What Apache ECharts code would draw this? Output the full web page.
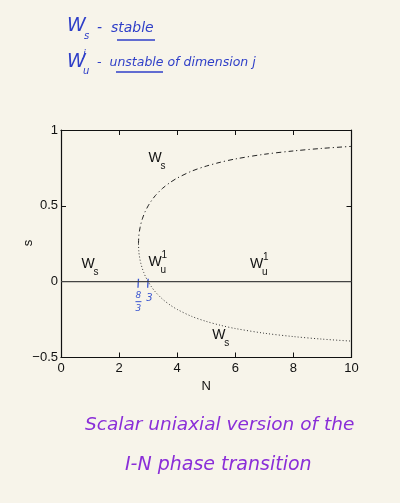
<!DOCTYPE html>
<html><head><meta charset="utf-8">
<script src="https://cdn.jsdelivr.net/npm/echarts@6/dist/echarts.min.js"></script>
<style>html,body{margin:0;padding:0;background:#f7f4ea;}#c{width:400px;height:503px;}</style>
</head><body><div id="c"></div>
<script>
// Values
const nUpper = [2.667, 2.68, 2.7, 2.72, 2.75, 2.8, 2.85, 2.9, 3.0, 3.1, 3.25, 3.5, 3.75, 4, 4.5, 5, 5.5, 6, 7, 8, 9, 10];
const sUpper = [0.25, 0.303, 0.333, 0.355, 0.381, 0.414, 0.440, 0.463, 0.5, 0.530, 0.568, 0.616, 0.653, 0.683, 0.729, 0.762, 0.788, 0.809, 0.840, 0.862, 0.879, 0.892];
const nLower = nUpper;
const sLower = [0.25, 0.197, 0.167, 0.145, 0.119, 0.086, 0.060, 0.037, 0, -0.030, -0.068, -0.116, -0.153, -0.183, -0.229, -0.262, -0.288, -0.309, -0.340, -0.362, -0.379, -0.392];
const nZero = [0, 10];
const sZero = [0, 0];
const xTicks = [0, 2, 4, 6, 8, 10];
const yTicks = [-0.5, 0, 0.5, 1];
// plot annotations
const annN = [3.25, 0.95, 3.25, 6.75, 5.45];
const annS = [0.77, 0.07, 0.08, 0.07, -0.40];
const annSub = ['s', 's', 'u', 'u', 's'];
const annSup = ['', '', '1', '1', ''];

const zip = (a, b) => a.map((v, i) => [v, b[i]]);
const chart = echarts.init(document.getElementById('c'));
const AX = 'Liberation Sans';
const axisCommon = {
  type: 'value', min: 0, max: 10, interval: 2,
  axisLine: {show: true, onZero: false, lineStyle: {color: '#111', width: 1.2}},
  axisTick: {show: true, inside: true, length: 5, lineStyle: {color: '#111'}},
  splitLine: {show: false}
};
chart.setOption({
  backgroundColor: '#f7f4ea',
  animation: false,
  grid: {left: 61, right: 48.5, top: 130, bottom: 145.5},
  xAxis: [
    Object.assign({}, axisCommon, {position: 'bottom', name: 'N', nameLocation: 'middle', nameGap: 22,
      nameTextStyle: {fontFamily: AX, fontSize: 13, color: '#111'},
      axisLabel: {fontFamily: AX, fontSize: 13, color: '#111', margin: 4,
        formatter: v => xTicks.includes(v) ? String(v) : ''}}),
    Object.assign({}, axisCommon, {position: 'top', axisLabel: {show: false}})
  ],
  yAxis: [
    Object.assign({}, axisCommon, {min: -0.5, max: 1, interval: 0.5, position: 'left',
      axisLabel: {fontFamily: AX, fontSize: 13, color: '#111', margin: 3,
        formatter: v => yTicks.includes(v) ? String(v).replace('-', '\u2212') : ''}}),
    Object.assign({}, axisCommon, {min: -0.5, max: 1, interval: 0.5, position: 'right', axisLabel: {show: false}})
  ],
  series: [
    {type: 'line', data: zip(nZero, sZero), symbol: 'none', lineStyle: {color: '#444', width: 1.3}},
    {type: 'line', data: zip(nUpper, sUpper), symbol: 'none', smooth: 0.3,
      lineStyle: {color: '#222', width: 1, type: [5, 3, 1.2, 3]}},
    {type: 'line', data: zip(nLower, sLower), symbol: 'none', smooth: 0.3,
      lineStyle: {color: '#333', width: 1, type: [1, 2.2]}}
  ]
});

const g = [];
const HW = 'DejaVu Sans';
function txt(x, y, s, size, color, opts) {
  g.push({type: 'text', x: x, y: y, style: Object.assign({text: s, fontSize: size, fill: color, fontFamily: AX}, opts || {})});
}
// y axis name
g.push({type: 'text', x: 28, y: 243, rotation: Math.PI / 2,
  style: {text: 's', fontSize: 13, fill: '#111', fontFamily: AX, align: 'center', verticalAlign: 'middle'}});
// annotations in plot
annN.forEach((n, i) => {
  const p = chart.convertToPixel({xAxisIndex: 0, yAxisIndex: 0}, [n, annS[i]]);
  txt(p[0] - 7, p[1] - 14, 'W', 14, '#111');
  txt(p[0] + 5, p[1] - 4, annSub[i], 10, '#111');
  if (annSup[i]) txt(p[0] + 6, p[1] - 19, annSup[i], 10, '#111');
});
// handwritten notes (blue)
const BLUE = '#2f3fc8';
const hw = {fontFamily: HW, fontStyle: 'italic'};
txt(67, 17, 'W', 19, BLUE, hw);
txt(84, 31, 's', 10, BLUE, hw);
txt(97, 21, '-  stable', 14, BLUE, hw);
g.push({type: 'line', shape: {x1: 117, y1: 40, x2: 155, y2: 40}, style: {stroke: BLUE, lineWidth: 1.5}});
txt(67, 53, 'W', 19, BLUE, hw);
txt(83, 49, 'j', 10, BLUE, hw);
txt(83, 66, 'u', 10, BLUE, hw);
txt(97, 56, '-  unstable of dimension j', 12.5, BLUE, hw);
g.push({type: 'line', shape: {x1: 116, y1: 72, x2: 163, y2: 72}, style: {stroke: BLUE, lineWidth: 1.5}});
// blue marks at N = 8/3 and N = 3
const p83 = chart.convertToPixel({xAxisIndex: 0, yAxisIndex: 0}, [8 / 3, 0]);
const p3 = chart.convertToPixel({xAxisIndex: 0, yAxisIndex: 0}, [3, 0]);
[p83, p3].forEach(p => g.push({type: 'line', shape: {x1: p[0], y1: p[1] - 3, x2: p[0] - 0.5, y2: p[1] + 6}, style: {stroke: '#3a55d0', lineWidth: 1.3}}));
txt(p83[0] - 3, p83[1] + 9, '8', 9, '#3a55d0', hw);
g.push({type: 'line', shape: {x1: p83[0] - 3, y1: p83[1] + 20, x2: p83[0] + 3, y2: p83[1] + 20}, style: {stroke: '#3a55d0', lineWidth: 1}});
txt(p83[0] - 3, p83[1] + 22, '3', 9, '#3a55d0', hw);
txt(p3[0] - 2, p3[1] + 12, '3', 10, '#3a55d0', hw);
// handwritten caption (purple)
const PUR = '#8a2ed8';
txt(85, 416, 'Scalar uniaxial version of the', 18.5, PUR, hw);
txt(125, 456, 'I-N phase transition', 19, PUR, hw);
chart.setOption({graphic: g});
</script></body></html>
